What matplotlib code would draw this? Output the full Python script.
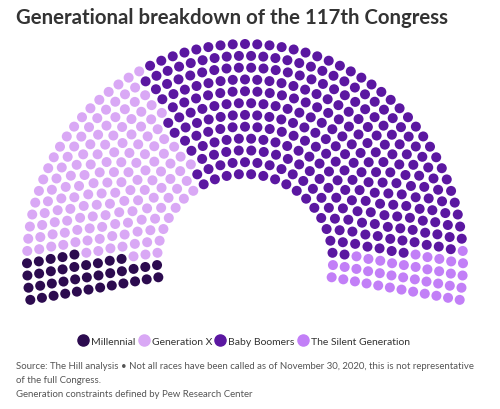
import math

import matplotlib
matplotlib.use("Agg")
import matplotlib.pyplot as plt
from matplotlib.lines import Line2D
from matplotlib.patches import Circle

# data
generations = ["Millennial", "Generation X", "Baby Boomers", "The Silent Generation"]
members = [38, 152, 302, 40]
colors = ["#2c0b4f", "#d9a8f5", "#5b17a1", "#c27ff7"]

title = "Generational breakdown of the 117th Congress"
footer = [
    "Source: The Hill analysis \u2022 Not all races have been called as of November 30, 2020, this is not representative",
    "of the full Congress.",
    "Generation constraints defined by Pew Research Center",
]

plt.rcParams["font.family"] = ["Lato", "DejaVu Sans"]

W, H = 500, 410
fig = plt.figure(figsize=(W / 100, H / 100), dpi=100)
ax = fig.add_axes([0, 0, 1, 1])
ax.set_xlim(0, W)
ax.set_ylim(H, 0)
ax.set_aspect("equal")
ax.axis("off")


def parliament_slots(total, cx, cy, r_outer, r_inner, n_rows, item_size, start_deg=-100, end_deg=100):
    """Seat slots in rows (arcs), sorted by angle like a Highcharts item series."""
    a0 = math.radians(start_deg - 90)
    full = math.radians(end_deg - start_deg)
    rows = []
    for i in range(n_rows):
        rad = r_inner + (r_outer - r_inner) * i / (n_rows - 1)
        length = full * rad
        rows.append({"radius": rad, "length": length, "cols": math.ceil(length / item_size)})
    overshoot = sum(r["cols"] + 1 for r in rows) - total
    while overshoot > 0:
        ranked = sorted(rows, key=lambda r: r["cols"] / r["length"], reverse=True)
        for r in ranked[: min(overshoot, math.ceil(len(rows) / 2))]:
            if overshoot > 0 and r["cols"] > 0:
                r["cols"] -= 1
                overshoot -= 1
    slots = []
    for r in rows:
        step = full / r["cols"]
        for c in range(r["cols"] + 1):
            ang = a0 + c * step
            slots.append((ang, cx + math.cos(ang) * r["radius"], cy + math.sin(ang) * r["radius"]))
    slots.sort(key=lambda s: s[0])
    return slots


slots = parliament_slots(sum(members), 245, 263, 218, 88, 12, 12)

k = 0
for name, n, col in zip(generations, members, colors):
    for _ in range(n):
        _, x, y = slots[k]
        ax.add_patch(Circle((x, y), 5.0, color=col, lw=0))
        k += 1

fig.text(16 / W, 1 - 18 / H, title, fontsize=14.7, fontweight="bold", color="#333333",
         va="center", ha="left")

handles = [Line2D([], [], marker="o", linestyle="none", markersize=8.0, color=c) for c in colors]
fig.legend(handles, generations, loc="center", bbox_to_anchor=(244 / W, 1 - 342 / H), ncol=4,
           frameon=False, fontsize=7.5, handletextpad=0.25, columnspacing=0.3, handlelength=1.0,
           labelcolor="#333333")

for i, line in enumerate(footer):
    fig.text(16 / W, 1 - (367 + i * 14) / H, line, fontsize=6.9, color="#555555",
             va="center", ha="left")

fig.savefig("out.png", dpi=100)
